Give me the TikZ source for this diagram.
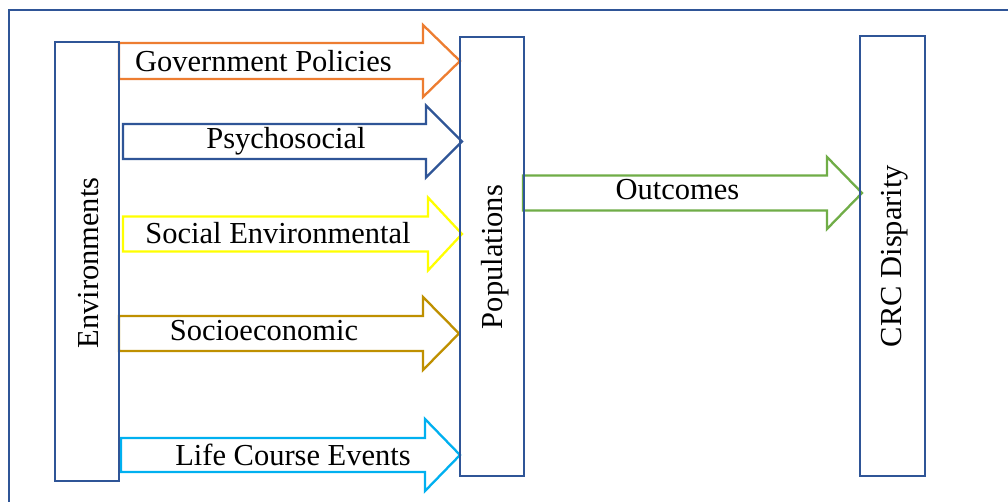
\documentclass[tikz,border=0pt]{standalone}
\usepackage{fontspec}
\setmainfont{Liberation Serif}
\definecolor{boxblue}{HTML}{2F5597}
\definecolor{govorange}{HTML}{ED7D31}
\definecolor{psyblue}{HTML}{2F5597}
\definecolor{socyellow}{HTML}{FFFF00}
\definecolor{ecogold}{HTML}{BF9000}
\definecolor{lifecyan}{HTML}{00B0F0}
\definecolor{outgreen}{HTML}{70AD47}
% block arrow: colour, left x, head x, tip x, centre y, body half-height, head half-height
\newcommand{\blockarr}[7]{%
  \draw[#1, line width=2.3pt, line join=miter, fill=white]
    (#2,#5-#6) -- (#3,#5-#6) -- (#3,#5-#7) -- (#4,#5)
    -- (#3,#5+#7) -- (#3,#5+#6) -- (#2,#5+#6) -- cycle;}
\begin{document}
\begin{tikzpicture}[x=1pt, y=-1pt,
  column/.style={draw=boxblue, line width=2.4pt, rectangle, inner sep=0pt},
  label/.style={font=\fontsize{30.5}{36}\selectfont, inner sep=0pt, text=black},
  vlabel/.style={label, rotate=90}]
  \useasboundingbox (0,0) rectangle (1008,502);
  \clip (0,0) rectangle (1008,502);
  \fill[white] (0,0) rectangle (1008,502);
  % outer frame, running past the right and bottom edges
  \draw[boxblue, line width=2.8pt] (1030,10) -- (9,10) -- (9,530);

  % block arrows
  \blockarr{govorange}{119}{423}{460}{61}{18}{36}
  \blockarr{psyblue}{123}{426}{462}{141.5}{17.5}{36}
  \blockarr{socyellow}{123}{428}{462}{234}{17.5}{36.5}
  \blockarr{ecogold}{119}{423}{459}{333.5}{17.5}{36.5}
  \blockarr{lifecyan}{121}{425}{460}{455}{17}{36}
  \blockarr{outgreen}{523}{827}{862}{193}{17.5}{36}

  % columns
  \node[column, minimum width=64pt, minimum height=439pt] (env) at (87,261.5) {};
  \node[column, minimum width=64pt, minimum height=439pt] (pop) at (492,256.5) {};
  \node[column, minimum width=65pt, minimum height=440pt] (crc) at (892.5,256) {};

  \node[vlabel] (envtext) at (89,263) {Environments};
  \node[vlabel] (poptext) at (495,257) {Populations};
  \node[vlabel] (crctext) at (895,256) {CRC Disparity};

  % arrow labels
  \node[label] (gov) at (263.5,61) {Government Policies};
  \node[label] (psy) at (286,141) {Psychosocial};
  \node[label] (soc) at (278,233) {Social Environmental};
  \node[label] (eco) at (264,331) {Socioeconomic};
  \node[label] (life) at (293,455) {Life Course Events};
  \node[label] (out) at (677.5,190) {Outcomes};
\end{tikzpicture}
\end{document}
